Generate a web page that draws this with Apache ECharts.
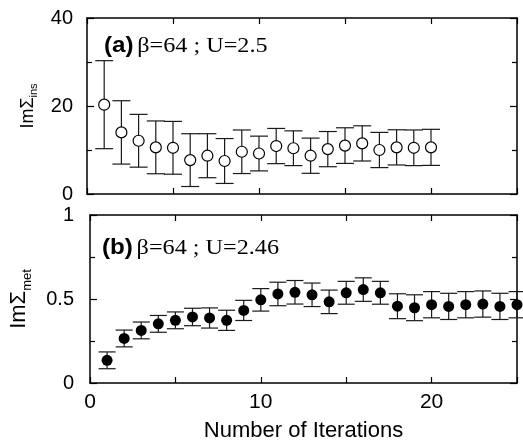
<!DOCTYPE html>
<html><head><meta charset="utf-8">
<script src="https://cdn.jsdelivr.net/npm/echarts@6/dist/echarts.min.js"></script>
<style>html,body{margin:0;padding:0;background:#fff}#c{width:523px;height:445px}</style>
</head><body><div id="c"></div>
<script>
// Panel (a): insulating solution
const iterA = [1,2,3,4,5,6,7,8,9,10,11,12,13,14,15,16,17,18,19,20];
const valA  = [20.3,14.0,12.1,10.6,10.5,7.7,8.7,7.5,9.6,9.2,10.9,10.4,8.7,10.2,11.0,11.5,10.0,10.6,10.5,10.6];
const errA  = [10.0,7.2,6.0,6.0,6.0,6.0,5.0,5.1,4.95,3.95,4.0,3.95,4.0,4.0,4.05,4.0,4.0,4.0,4.05,4.1];
// Panel (b): metallic solution
const iterB = [1,2,3,4,5,6,7,8,9,10,11,12,13,14,15,16,17,18,19,20,21,22,23,24,25];
const valB  = [0.135,0.265,0.313,0.352,0.373,0.393,0.387,0.373,0.432,0.495,0.53,0.54,0.525,0.483,0.537,0.556,0.537,0.457,0.448,0.466,0.456,0.466,0.47,0.456,0.466];
const errB  = [0.05,0.05,0.05,0.05,0.05,0.052,0.06,0.06,0.06,0.067,0.07,0.07,0.07,0.07,0.068,0.07,0.068,0.074,0.077,0.078,0.078,0.078,0.078,0.078,0.078];
// Axis ticks / labels
const xLabelsShown = [0,10,20];
const yTicksA = {min:0, max:40, interval:20};
const yTicksB = {min:0, max:1, interval:0.5};
const xTicks = {min:0, max:25, interval:5};

const SANS = 'Liberation Sans, Arial, sans-serif';
const SERIF = 'Liberation Serif, Times New Roman, serif';

function errRender(capHalf){
  return function(params, api){
    const x = api.value(0), y = api.value(1), e = api.value(2);
    const t = api.coord([x, y + e]), b = api.coord([x, y - e]);
    const st = {stroke:'#1a1a1a', lineWidth:1.2, fill:null};
    return {type:'group', children:[
      {type:'line', shape:{x1:t[0], y1:t[1], x2:b[0], y2:b[1]}, style:st},
      {type:'line', shape:{x1:t[0]-capHalf, y1:t[1], x2:t[0]+capHalf, y2:t[1]}, style:st},
      {type:'line', shape:{x1:b[0]-capHalf, y1:b[1], x2:b[0]+capHalf, y2:b[1]}, style:st}
    ]};
  };
}

const lineStyle = {color:'#000', width:1.5};
function xAxisDef(grid, pos, showLabels, name){
  return {
    type:'value', gridIndex:grid, position:pos, min:xTicks.min, max:xTicks.max, interval:xTicks.interval,
    axisLine:{show:true, onZero:false, lineStyle},
    axisTick:{show:true, inside:true, length:6, lineStyle:{color:'#000', width:1.2}},
    axisLabel:{show:showLabels, margin:9, fontSize:21, fontFamily:SANS, color:'#000',
      formatter: v => xLabelsShown.indexOf(v) >= 0 ? String(v) : ''},
    splitLine:{show:false},
    name: name || '', nameLocation:'middle', nameGap:37,
    nameTextStyle:{fontSize:22, fontFamily:SANS, color:'#000'}
  };
}
function yAxisDef(grid, pos, ticks, showLabels, margin, name, rich){
  return {
    type:'value', gridIndex:grid, position:pos, min:ticks.min, max:ticks.max, interval:ticks.interval,
    axisLine:{show:true, onZero:false, lineStyle},
    axisTick:{show:true, inside:true, length:7, lineStyle:{color:'#000', width:1.2}},
    minorTick:{show:true, splitNumber:2, length:5, lineStyle:{color:'#000', width:1.2}},
    axisLabel:{show:showLabels, margin:margin, fontSize:20, fontFamily:SANS, color:'#000'},
    splitLine:{show:false}, minorSplitLine:{show:false},
    name: name || '', nameLocation:'middle', nameRotate:90, nameGap: grid === 0 ? 45 : 56,
    nameTextStyle:{fontFamily:SANS, color:'#000', rich: rich || {}}
  };
}

const richA = {m:{fontSize:18, fontFamily:SANS, color:'#000', padding:[0,0,3,0]}, s:{fontSize:11, fontFamily:SANS, color:'#000', verticalAlign:'bottom'}};
const richB = {m:{fontSize:22, fontFamily:SANS, color:'#000', padding:[0,0,4,0]}, s:{fontSize:13, fontFamily:SANS, color:'#000', verticalAlign:'bottom'}};
const annRich = {a:{fontSize:22, fontWeight:'bold', fontFamily:SANS, fill:'#000'}, b:{fontSize:22, fontFamily:SERIF, fill:'#000'}};

const chart = echarts.init(document.getElementById('c'), null, {renderer:'canvas'});
chart.setOption({
  backgroundColor:'#fff',
  animation:false,
  grid:[
    {left:87, right:6, top:18, height:176},
    {left:89, right:6, top:215, height:168}
  ],
  xAxis:[
    xAxisDef(0,'bottom',false),
    xAxisDef(0,'top',false),
    xAxisDef(1,'bottom',true,'Number of Iterations'),
    xAxisDef(1,'top',false)
  ],
  yAxis:[
    yAxisDef(0,'left',yTicksA,true,14,'{m|ImΣ}{s|ins}',richA),
    yAxisDef(0,'right',yTicksA,false,0),
    yAxisDef(1,'left',yTicksB,true,16,'{m|ImΣ}{s|met}',richB),
    yAxisDef(1,'right',yTicksB,false,0)
  ],
  graphic:[
    {type:'text', x:104, y:35, scaleX:1.1, z:10, style:{
      text:'{a|(a)} {b|β=64 ; U=2.5}', rich:annRich}},
    {type:'text', x:102, y:237, scaleX:1.1, z:10, style:{
      text:'{a|(b)} {b|β=64 ; U=2.46}', rich:annRich}}
  ],
  series:[
    {type:'custom', xAxisIndex:0, yAxisIndex:0, clip:false, z:2, renderItem:errRender(9),
      data: iterA.map((x,i)=>[x, valA[i], errA[i]])},
    {type:'scatter', xAxisIndex:0, yAxisIndex:0, z:5, symbol:'circle', symbolSize:11,
      itemStyle:{color:'#fff', borderColor:'#000', borderWidth:1.2, opacity:1},
      data: iterA.map((x,i)=>[x, valA[i]])},
    {type:'custom', xAxisIndex:2, yAxisIndex:2, clip:false, z:2, renderItem:errRender(8.5),
      data: iterB.map((x,i)=>[x, valB[i], errB[i]])},
    {type:'scatter', xAxisIndex:2, yAxisIndex:2, z:5, symbol:'circle', symbolSize:11, clip:false,
      itemStyle:{color:'#000', borderColor:'#000', borderWidth:0, opacity:1},
      data: iterB.map((x,i)=>[x, valB[i]])}
  ]
});
</script></body></html>
